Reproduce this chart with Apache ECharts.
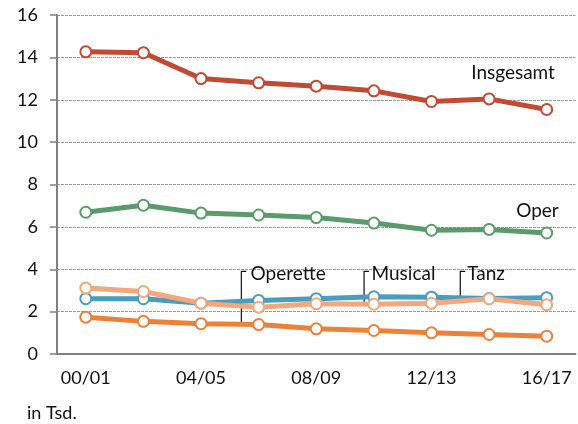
<!DOCTYPE html>
<html>
<head>
<meta charset="utf-8">
<script src="https://cdn.jsdelivr.net/npm/echarts@6/dist/echarts.min.js"></script>
<style>
  html, body { margin: 0; padding: 0; background: #fff; }
  #chart { width: 578px; height: 424px; }
</style>
</head>
<body>
<div id="chart"></div>
<script>
// Spielzeiten
var seasons = ['00/01', '02/03', '04/05', '06/07', '08/09', '10/11', '12/13', '14/15', '16/17'];
var yTicks = [0, 2, 4, 6, 8, 10, 12, 14, 16];

// Werte in Tsd.
var insgesamt = [14.26, 14.22, 13.0, 12.8, 12.64, 12.42, 11.92, 12.04, 11.54];
var oper      = [6.69, 7.02, 6.65, 6.56, 6.44, 6.18, 5.84, 5.88, 5.71];
var tanz      = [2.61, 2.61, 2.40, 2.53, 2.61, 2.70, 2.68, 2.62, 2.66];
var musical   = [3.11, 2.95, 2.40, 2.21, 2.37, 2.35, 2.40, 2.61, 2.32];
var operette  = [1.74, 1.54, 1.43, 1.39, 1.19, 1.11, 1.00, 0.92, 0.84];

var FONT = 'Lato';

var chart = echarts.init(document.getElementById('chart'));

function lineSeries(name, data, color) {
    return {
        name: name,
        type: 'line',
        data: data,
        symbol: 'circle',
        symbolSize: 11,
        lineStyle: { color: color, width: 5 },
        itemStyle: { color: '#fff', borderColor: color, borderWidth: 2 },
        emphasis: { disabled: true },
        animation: false
    };
}

chart.setOption({
    backgroundColor: '#fff',
    animation: false,
    grid: { left: 57, right: 2.5, top: 15, bottom: 70 },
    xAxis: {
        type: 'category',
        data: seasons,
        boundaryGap: true,
        axisLine: { lineStyle: { color: '#808080', width: 2 } },
        axisTick: { alignWithLabel: true, interval: 0, length: 6, lineStyle: { color: '#808080', width: 1.5 } },
        axisLabel: { interval: 1, margin: 15, color: '#111', fontFamily: FONT, fontSize: 18 }
    },
    yAxis: {
        type: 'value',
        min: 0,
        max: 16,
        interval: 2,
        axisLine: { show: true, lineStyle: { color: '#808080', width: 2 } },
        axisTick: { show: true, length: 7, lineStyle: { color: '#808080', width: 1.5 } },
        axisLabel: { margin: 19, color: '#111', fontFamily: FONT, fontSize: 18 },
        splitLine: { lineStyle: { color: '#9a9a9a', width: 1, type: [3, 1] } }
    },
    series: [
        lineSeries('Insgesamt', insgesamt, '#c24a33'),
        lineSeries('Oper', oper, '#5a9b6c'),
        lineSeries('Tanz', tanz, '#4a9dbf'),
        lineSeries('Musical', musical, '#f3a77c'),
        lineSeries('Operette', operette, '#ef8038')
    ]
});

// Position aus (Kategorie-Index, Wert) berechnen, Index darf gebrochen sein
function px(idx, val) {
    var i0 = Math.floor(idx), f = idx - i0;
    var a = chart.convertToPixel({ gridIndex: 0 }, [i0, val]);
    var b = chart.convertToPixel({ gridIndex: 0 }, [i0 + 1, val]);
    return [a[0] + (b[0] - a[0]) * f, a[1]];
}

function label(text, idx, val, size) {
    var p = px(idx, val);
    return {
        type: 'text', x: p[0], y: p[1],
        style: { text: text, fill: '#111', font: size + 'px ' + FONT, verticalAlign: 'middle' }
    };
}

function pointer(idx, top, bottom) {
    var t = px(idx, top), b = px(idx, bottom);
    return {
        type: 'polyline',
        shape: { points: [[t[0] + 5, t[1]], [t[0], t[1]], [b[0], b[1]]] },
        style: { stroke: '#111', lineWidth: 1.2, fill: null }
    };
}

chart.setOption({
    graphic: [
        label('Insgesamt', 6.69, 13.26, 19),
        label('Oper', 7.47, 6.75, 19),
        label('Operette', 2.86, 3.80, 19),
        pointer(2.70, 3.90, 1.49),
        label('Musical', 4.96, 3.80, 19),
        pointer(4.83, 3.90, 2.39),
        label('Tanz', 6.62, 3.80, 19),
        pointer(6.50, 3.90, 2.72),
        { type: 'text', x: 27, y: 413, style: { text: 'in Tsd.', fill: '#111', font: '18px ' + FONT, verticalAlign: 'middle' } }
    ]
});
</script>
</body>
</html>
